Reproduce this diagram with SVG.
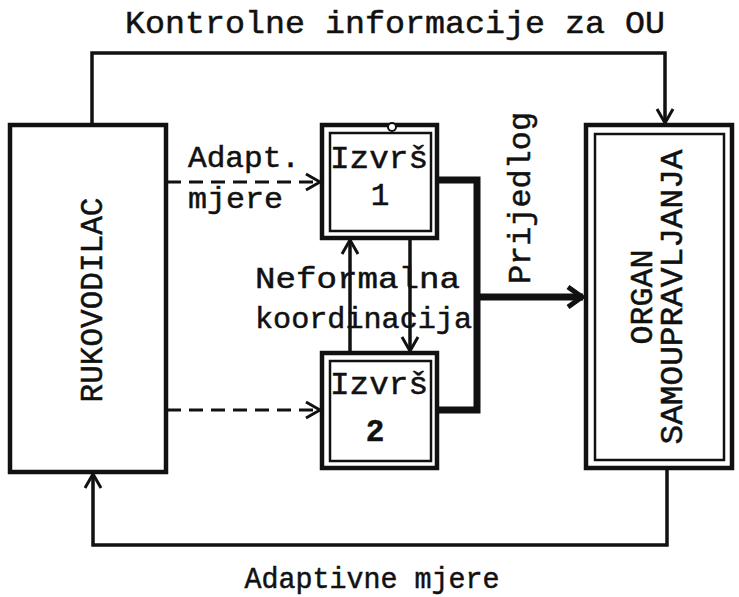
<svg xmlns="http://www.w3.org/2000/svg" width="739" height="597" viewBox="0 0 739 597">
<style>
.t{font-family:"Liberation Mono","DejaVu Sans Mono",monospace;fill:#111;stroke:#111;stroke-width:0.5;}
.box{fill:none;stroke:#111;stroke-width:4.5;}
.inner{fill:none;stroke:#111;stroke-width:2.5;}
.ln{fill:none;stroke:#111;stroke-width:3.5;}
.dash{fill:none;stroke:#111;stroke-width:3;stroke-dasharray:14 8;}
.thick{fill:none;stroke:#111;stroke-width:7;}
</style>
<defs>
<marker id="v" viewBox="0 0 20 20" refX="18" refY="10" markerWidth="20" markerHeight="20" markerUnits="userSpaceOnUse" orient="auto">
<path d="M4,2 L18,10 L4,18" fill="none" stroke="#111" stroke-width="3"/>
</marker>
<marker id="vb" viewBox="0 0 24 24" refX="21" refY="12" markerWidth="24" markerHeight="24" markerUnits="userSpaceOnUse" orient="auto">
<path d="M6,2 L20,12 L6,22" fill="none" stroke="#111" stroke-width="5"/>
</marker>
</defs>
<rect width="739" height="597" fill="#fff"/>

<g id="rukovodilac">
<rect class="box" x="10" y="125" width="156" height="347"/>
<text class="t" font-size="31" transform="translate(102,300) rotate(-90)" text-anchor="middle" textLength="205" lengthAdjust="spacingAndGlyphs">RUKOVODILAC</text>
</g>

<g id="izvrs1">
<rect class="box" x="322" y="125" width="115" height="113"/>
<rect class="inner" x="330" y="133" width="101" height="98"/>
<circle cx="392" cy="127" r="4" fill="#fff" stroke="#111" stroke-width="2"/>
<text class="t" font-size="31" x="379" y="168" text-anchor="middle" textLength="98" lengthAdjust="spacingAndGlyphs">Izvrš</text>
<text class="t" font-size="31" x="380" y="205" text-anchor="middle">1</text>
</g>

<g id="izvrs2">
<rect class="box" x="322" y="353" width="115" height="115"/>
<rect class="inner" x="330" y="361" width="101" height="100"/>
<text class="t" font-size="31" x="379" y="394" text-anchor="middle" textLength="98" lengthAdjust="spacingAndGlyphs">Izvrš</text>
<text class="t" font-size="31" x="375" y="441" text-anchor="middle" font-weight="bold">2</text>
</g>

<g id="organ">
<rect class="box" x="586" y="125" width="146" height="343"/>
<rect class="inner" x="595" y="134" width="129" height="326"/>
<text class="t" font-size="31" transform="translate(652,297) rotate(-90)" text-anchor="middle" textLength="95" lengthAdjust="spacingAndGlyphs">ORGAN</text>
<text class="t" font-size="31" transform="translate(682,297) rotate(-90)" text-anchor="middle" textLength="295" lengthAdjust="spacingAndGlyphs">SAMOUPRAVLJANJA</text>
</g>

<g id="connectors">
<path class="ln" d="M92,125 V53 H665 V123" marker-end="url(#v)"/>
<path class="ln" d="M667,468 V545 H93 V474" marker-end="url(#v)"/>
<path class="dash" d="M167,182 H320" marker-end="url(#v)"/>
<path class="dash" d="M167,410 H320" marker-end="url(#v)"/>
<path class="ln" d="M350,353 V240" marker-end="url(#v)"/>
<path class="ln" d="M410,238 V351" marker-end="url(#v)"/>
<path class="thick" d="M437,180 H477 V410 H437"/>
<path class="thick" d="M477,297 H583" marker-end="url(#vb)"/>
</g>

<g id="labels">
<text class="t" font-size="32" x="395" y="33" text-anchor="middle" textLength="540" lengthAdjust="spacingAndGlyphs">Kontrolne informacije za OU</text>
<text class="t" font-size="30" x="188" y="167" textLength="112" lengthAdjust="spacingAndGlyphs">Adapt.</text>
<text class="t" font-size="30" x="188" y="208" textLength="95" lengthAdjust="spacingAndGlyphs">mjere</text>
<text class="t" font-size="30" x="255" y="288" textLength="205" lengthAdjust="spacingAndGlyphs">Neformalna</text>
<text class="t" font-size="30" x="255" y="328" textLength="217" lengthAdjust="spacingAndGlyphs">koordinacija</text>
<text class="t" font-size="31" transform="translate(530,198) rotate(-90)" text-anchor="middle" textLength="172" lengthAdjust="spacingAndGlyphs">Prijedlog</text>
<text class="t" font-size="30" x="372" y="588" text-anchor="middle" textLength="255" lengthAdjust="spacingAndGlyphs">Adaptivne mjere</text>
</g>
</svg>
